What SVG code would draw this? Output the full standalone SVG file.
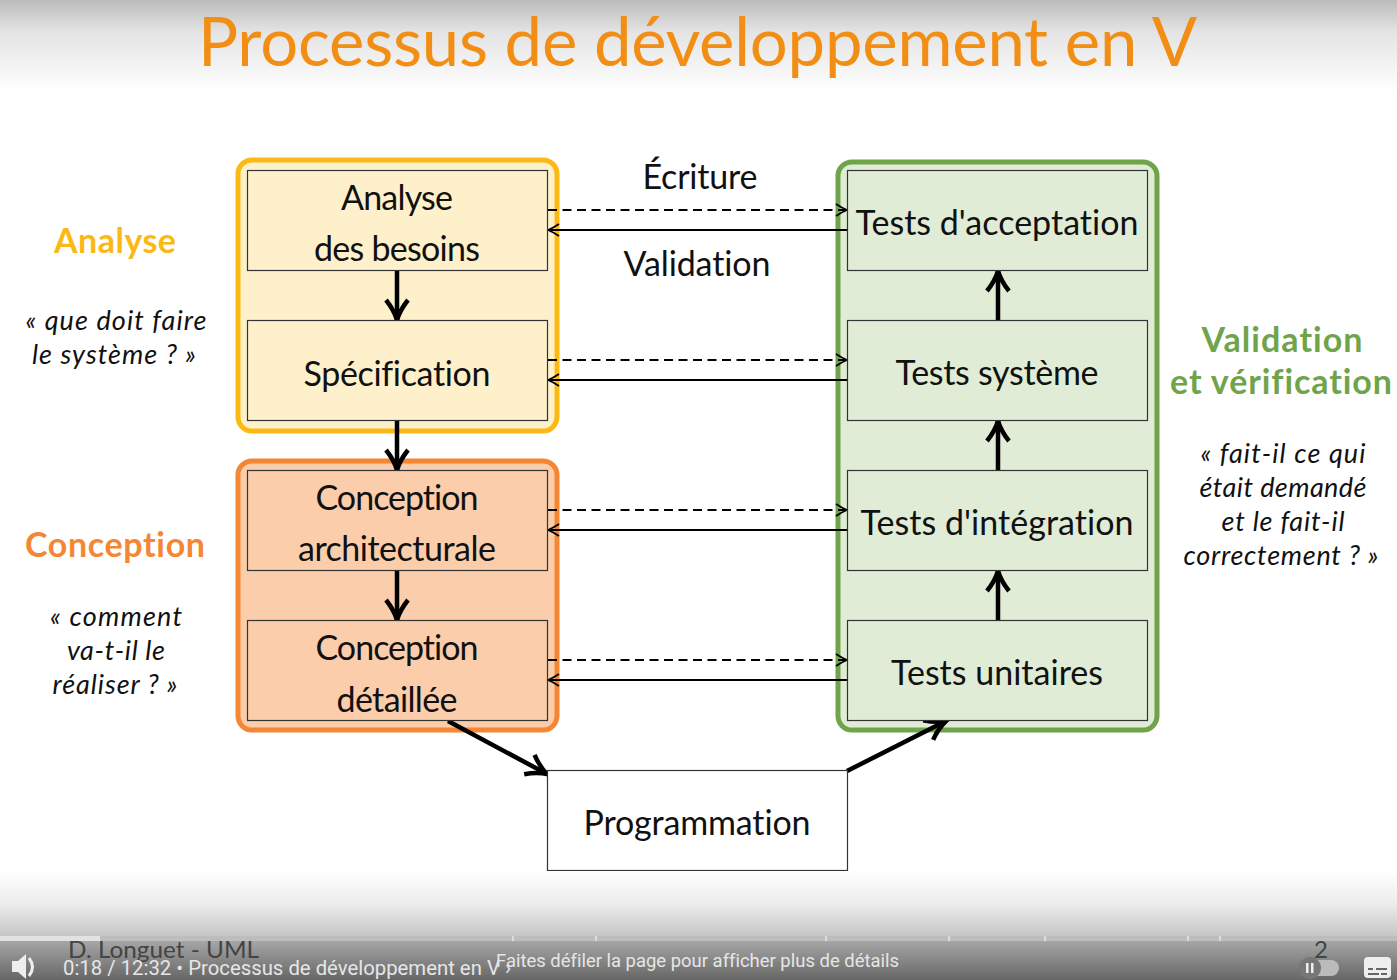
<svg xmlns="http://www.w3.org/2000/svg" width="1397" height="980" viewBox="0 0 1397 980">
<style>
text{font-family:"Lato","Open Sans","Liberation Sans",sans-serif;fill:#111;font-variant-ligatures:none}
.n{font-size:34px;text-anchor:middle}
.box{stroke:#333;stroke-width:1.2}
.q{font-size:27px;font-style:italic;text-anchor:middle}
.h{font-size:34px;font-weight:700;text-anchor:middle}
.thick{fill:none;stroke:#000;stroke-width:4.5}
.thin{fill:none;stroke:#000;stroke-width:1.8}
.yt{font-family:"Roboto","Liberation Sans",sans-serif;font-size:20px;fill:#e6e6e6}
</style>
<defs>
<linearGradient id="top" x1="0" y1="0" x2="0" y2="1"><stop offset="0" stop-color="#bcbcbc"/><stop offset=".35" stop-color="#e4e4e4"/><stop offset="1" stop-color="#fff"/></linearGradient>
<linearGradient id="bot" x1="0" y1="0" x2="0" y2="1"><stop offset="0" stop-color="#fff"/><stop offset=".5" stop-color="#ececec"/><stop offset="1" stop-color="#c6c6c6"/></linearGradient>
<linearGradient id="bar" x1="0" y1="0" x2="0" y2="1"><stop offset="0" stop-color="#a6a6a6"/><stop offset="1" stop-color="#666"/></linearGradient>
<marker id="ah" markerUnits="userSpaceOnUse" markerWidth="28" markerHeight="28" refX="23" refY="14" orient="auto"><path d="M3 3Q13 11 23 14Q13 17 3 25" fill="none" stroke="#000" stroke-width="4.5"/></marker>
<marker id="as" markerUnits="userSpaceOnUse" markerWidth="18" markerHeight="18" refX="14" refY="9" orient="auto"><path d="M3 3Q9 7 14 9Q9 11 3 15" fill="none" stroke="#000" stroke-width="1.8"/></marker>
</defs>
<rect width="1397" height="980" fill="#fff"/>
<rect width="1397" height="92" fill="url(#top)"/>
<text x="198" y="66" font-size="67" textLength="999" style="fill:#f28e14">Processus de développement en V</text>
<g id="group-analyse"><rect x="238" y="160" width="319" height="271" rx="14" fill="#fef0cb" stroke="#fdb913" stroke-width="5"/></g>
<g id="group-conception"><rect x="238" y="461" width="319" height="269" rx="14" fill="#fbcdab" stroke="#f58634" stroke-width="5"/></g>
<g id="group-validation"><rect x="838" y="162" width="319" height="568" rx="14" fill="#e0ecd6" stroke="#70a44b" stroke-width="5"/></g>
<g id="connectors">
<path class="thick" marker-end="url(#ah)" d="M397 271V320"/>
<path class="thick" marker-end="url(#ah)" d="M397 421V470"/>
<path class="thick" marker-end="url(#ah)" d="M397 571V620"/>
<path class="thick" marker-end="url(#ah)" d="M448 721L547 774"/>
<path class="thick" marker-end="url(#ah)" d="M847 771L946 721"/>
<path class="thick" marker-end="url(#ah)" d="M998 621V571"/>
<path class="thick" marker-end="url(#ah)" d="M998 471V421"/>
<path class="thick" marker-end="url(#ah)" d="M998 321V271"/>
<path class="thin" stroke-dasharray="9 5.500" marker-end="url(#as)" d="M548 210H847"/>
<path class="thin" stroke-dasharray="9 5.500" marker-end="url(#as)" d="M548 360H847"/>
<path class="thin" stroke-dasharray="9 5.500" marker-end="url(#as)" d="M548 510H847"/>
<path class="thin" stroke-dasharray="9 5.500" marker-end="url(#as)" d="M548 660H847"/>
<path class="thin" marker-end="url(#as)" d="M847 230H548"/>
<path class="thin" marker-end="url(#as)" d="M847 380H548"/>
<path class="thin" marker-end="url(#as)" d="M847 530H548"/>
<path class="thin" marker-end="url(#as)" d="M847 680H548"/>
</g>
<g id="analyse-besoins"><rect class="box" x="247.500" y="170.500" width="300" height="100" fill="#fef0cb"/><text class="n" x="397" y="210" textLength="112">Analyse</text><text class="n" x="397" y="261" textLength="166">des besoins</text></g>
<g id="specification"><rect class="box" x="247.500" y="320.500" width="300" height="100" fill="#fef0cb"/><text class="n" x="397" y="386" textLength="187">Spécification</text></g>
<g id="conception-architecturale"><rect class="box" x="247.500" y="470.500" width="300" height="100" fill="#fbcdab"/><text class="n" x="397" y="510" textLength="163">Conception</text><text class="n" x="397" y="561" textLength="198">architecturale</text></g>
<g id="conception-detaillee"><rect class="box" x="247.500" y="620.500" width="300" height="100" fill="#fbcdab"/><text class="n" x="397" y="660" textLength="163">Conception</text><text class="n" x="397" y="712" textLength="121">détaillée</text></g>
<g id="tests-acceptation"><rect class="box" x="847.500" y="170.500" width="300" height="100" fill="#e0ecd6"/><text class="n" x="997" y="235" textLength="283">Tests d'acceptation</text></g>
<g id="tests-systeme"><rect class="box" x="847.500" y="320.500" width="300" height="100" fill="#e0ecd6"/><text class="n" x="997" y="385" textLength="203">Tests système</text></g>
<g id="tests-integration"><rect class="box" x="847.500" y="470.500" width="300" height="100" fill="#e0ecd6"/><text class="n" x="997" y="535" textLength="273">Tests d'intégration</text></g>
<g id="tests-unitaires"><rect class="box" x="847.500" y="620.500" width="300" height="100" fill="#e0ecd6"/><text class="n" x="997" y="685" textLength="212">Tests unitaires</text></g>
<g id="programmation"><rect class="box" x="547.500" y="770.500" width="300" height="100" fill="#fff"/><text class="n" x="697" y="835" textLength="227">Programmation</text></g>
<g id="labels">
<text class="n" x="700" y="189" textLength="115">Écriture</text>
<text class="n" x="697" y="276" textLength="147">Validation</text>
<text class="h" x="115" y="253" textLength="122" style="fill:#fdb913">Analyse</text>
<text class="q" x="116" y="330" textLength="181">« que doit faire</text>
<text class="q" x="114" y="364" textLength="164">le système ? »</text>
<text class="h" x="115" y="557" textLength="180" style="fill:#f58634">Conception</text>
<text class="q" x="116" y="626" textLength="132">« comment</text>
<text class="q" x="116" y="660" textLength="98">va-t-il le</text>
<text class="q" x="115" y="694" textLength="125">réaliser ? »</text>
<text class="h" x="1282" y="352" textLength="161" style="fill:#70a44b">Validation</text>
<text class="h" x="1281" y="394" textLength="222" style="fill:#70a44b">et vérification</text>
<text class="q" x="1283" y="463" textLength="165">« fait-il ce qui</text>
<text class="q" x="1283" y="497" textLength="167">était demandé</text>
<text class="q" x="1283" y="531" textLength="123">et le fait-il</text>
<text class="q" x="1281" y="565" textLength="195">correctement ? »</text>
</g>
<g id="player">
<rect y="871" width="1397" height="65" fill="url(#bot)"/>
<rect y="941" width="1397" height="39" fill="url(#bar)"/>
<rect y="936" width="1397" height="5" fill="#bdbdbd"/>
<rect y="936" width="100" height="5" fill="#e2e2e2"/>
<path d="M512 936h2v5h-2zM595 936h2v5h-2zM825 936h2v5h-2zM948 936h2v5h-2zM1044 936h2v5h-2zM1187 936h2v5h-2zM1219 936h2v5h-2z" fill="#ddd"/>
<text x="68" y="958" font-size="24" textLength="191" lengthAdjust="spacingAndGlyphs" style="fill:#444">D. Longuet - UML</text>
<text x="1314" y="958" font-size="24" style="fill:#444">2</text>
<path d="M12 961h6l8-7v25l-8-7h-6z" fill="#eee"/><path d="M29 958q7 9 0 18" fill="none" stroke="#eee" stroke-width="3"/>
<text class="yt" x="63" y="975" textLength="448" lengthAdjust="spacingAndGlyphs">0:18 / 12:32 • Processus de développement en V ›</text>
<text class="yt" x="496" y="967" textLength="403" lengthAdjust="spacingAndGlyphs" style="font-size:19px">Faites défiler la page pour afficher plus de détails</text>
<rect x="1300" y="960" width="39" height="16" rx="8" fill="#bbb"/>
<circle cx="1310" cy="968" r="11" fill="#777"/>
<path d="M1306 963h2.500v10h-2.500zM1311 963h2.500v10h-2.500z" fill="#eee"/>
<rect x="1364" y="957" width="27" height="21" rx="4" fill="#eee"/>
<path d="M1368 968h5v2h-5zM1376 968h11v2h-11zM1368 973h11v2h-11zM1381 973h6v2h-6z" fill="#666"/>
</g>
</svg>
